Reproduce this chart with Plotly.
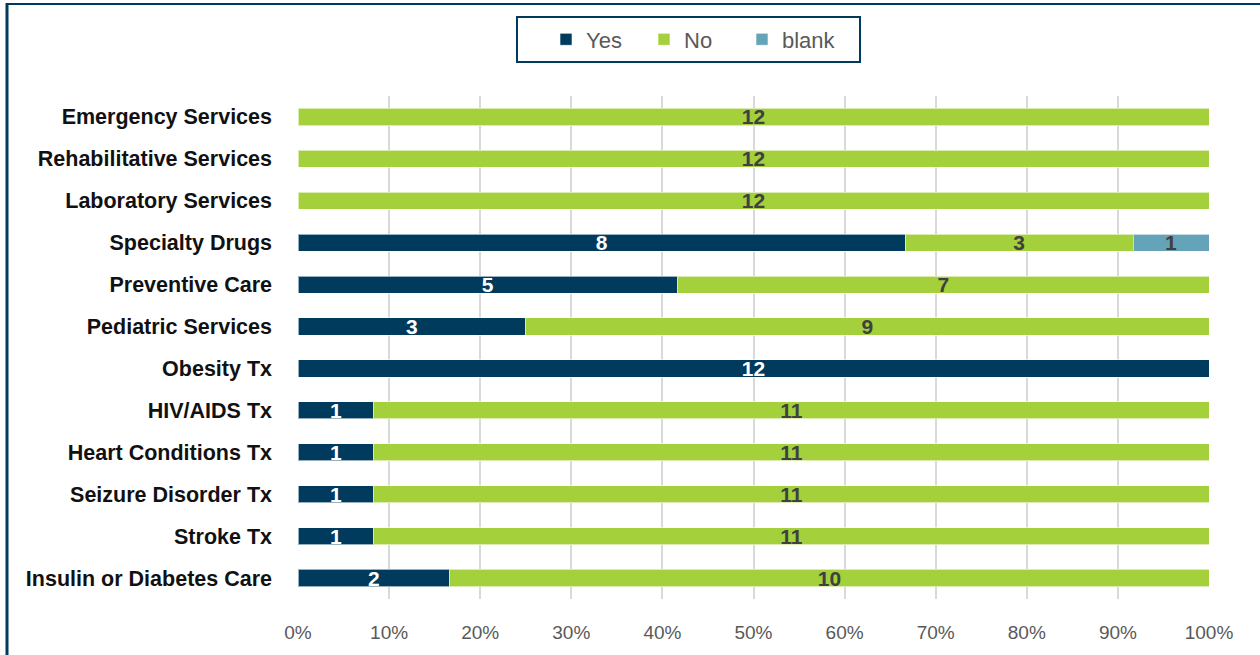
import plotly.graph_objects as go

categories = [
    "Emergency Services",
    "Rehabilitative Services",
    "Laboratory Services",
    "Specialty Drugs",
    "Preventive Care",
    "Pediatric Services",
    "Obesity Tx",
    "HIV/AIDS Tx",
    "Heart Conditions Tx",
    "Seizure Disorder Tx",
    "Stroke Tx",
    "Insulin or Diabetes Care",
]
yes_counts = [0, 0, 0, 8, 5, 3, 12, 1, 1, 1, 1, 2]
no_counts = [12, 12, 12, 3, 7, 9, 0, 11, 11, 11, 11, 10]
blank_counts = [0, 0, 0, 1, 0, 0, 0, 0, 0, 0, 0, 0]

x_ticks = [0, 10, 20, 30, 40, 50, 60, 70, 80, 90, 100]
x_tick_labels = [f"{t}%" for t in x_ticks]

W, H = 1260, 655
ML, MR, MT, MB = 298, 51, 96, 56
FONT = "Liberation Sans, Arial, sans-serif"
NAVY = "#003A5D"

totals = [y + n + b for y, n, b in zip(yes_counts, no_counts, blank_counts)]


def pct(vals):
    return [100.0 * v / t for v, t in zip(vals, totals)]


series = [
    ("Yes", yes_counts, NAVY, "white"),
    ("No", no_counts, "#A3D03B", "#404040"),
    ("blank", blank_counts, "#65A3B9", "#404040"),
]

fig = go.Figure()
for name, vals, color, txtcolor in series:
    fig.add_trace(go.Bar(
        name=name,
        y=categories,
        x=pct(vals),
        orientation="h",
        marker=dict(color=color, line=dict(color="rgba(255,255,255,0.6)", width=1)),
        text=[str(v) if v else "" for v in vals],
        textposition="inside",
        insidetextanchor="middle",
        textangle=0,
        constraintext="none",
        textfont=dict(family=FONT, size=21, color=txtcolor, weight="bold"),
        hoverinfo="skip",
    ))

pw, ph = W - ML - MR, H - MT - MB


def px_x(px):
    return (px - ML) / pw


def px_y(py):
    return (H - MB - py) / ph


fig.update_layout(
    width=W,
    height=H,
    barmode="stack",
    bargap=0.59,
    margin=dict(l=ML, r=MR, t=MT, b=MB, autoexpand=False),
    paper_bgcolor="white",
    plot_bgcolor="white",
    uniformtext=dict(minsize=21, mode="show"),
    legend=dict(
        orientation="h",
        x=px_x(546),
        xanchor="left",
        y=px_y(39.5),
        yanchor="middle",
        borderwidth=0,
        bgcolor="rgba(0,0,0,0)",
        font=dict(family=FONT, size=22, color="#595959"),
        traceorder="normal",
        entrywidth=53,
    ),
    xaxis=dict(
        range=[0, 100],
        tickvals=x_ticks,
        ticktext=x_tick_labels,
        showgrid=True,
        gridcolor="#D9D9D9",
        gridwidth=2,
        zeroline=False,
        showline=False,
        ticks="",
        ticklabelstandoff=20,
        tickfont=dict(family=FONT, size=19, color="#595959"),
        fixedrange=True,
    ),
    yaxis=dict(
        categoryorder="array",
        categoryarray=categories,
        autorange="reversed",
        showgrid=False,
        zeroline=False,
        ticks="",
        ticklabelstandoff=25,
        tickfont=dict(family=FONT, size=21.5, color="#111111", weight="bold"),
        fixedrange=True,
    ),
    showlegend=True,
)

# legend frame
fig.add_shape(type="rect", xref="paper", yref="paper",
              x0=px_x(517), x1=px_x(860), y0=px_y(62), y1=px_y(17),
              line=dict(color=NAVY, width=2), layer="below")

# frame along the left and top edges of the chart
fig.add_shape(type="line", xref="paper", yref="paper",
              x0=px_x(7), x1=px_x(7), y0=px_y(3), y1=px_y(H + 5),
              line=dict(color=NAVY, width=3))
fig.add_shape(type="line", xref="paper", yref="paper",
              x0=px_x(6), x1=px_x(W + 5), y0=px_y(4), y1=px_y(4),
              line=dict(color=NAVY, width=2))

fig.write_html("out.html", config={"displayModeBar": False})
